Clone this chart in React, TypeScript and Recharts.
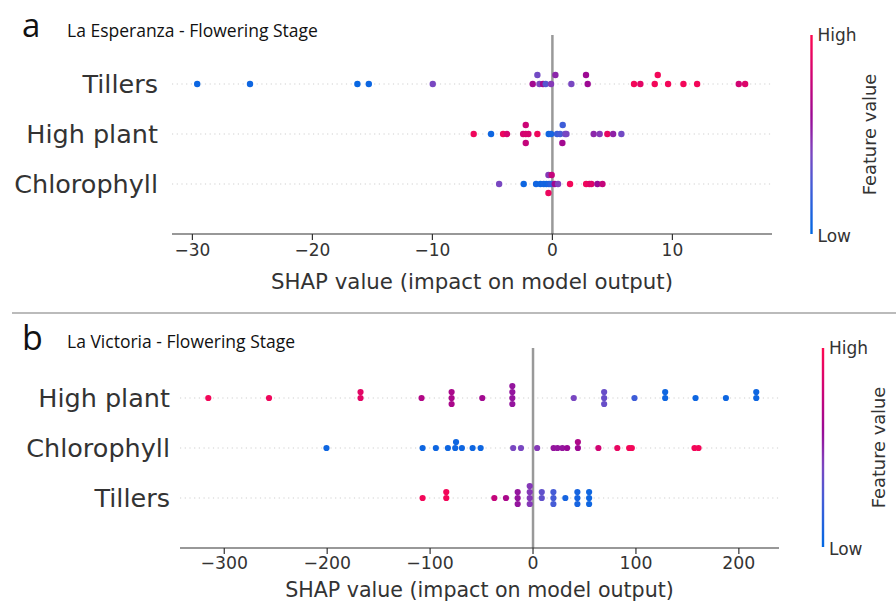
import React from 'react';
import { ScatterChart, Scatter, XAxis, YAxis, ReferenceLine } from 'recharts';

// ---------- Data: [SHAP value, stack lane, feature value 0..1] ----------
const esperanzaFeatures = ['Chlorophyll', 'High plant', 'Tillers'];
const esperanzaTicks = [-30, -20, -10, 0, 10];

const esperanzaTillers: number[][] = [
  [-29.6, 0, 0.04], [-25.2, 0, 0.05], [-16.25, 0, 0.03], [-15.3, 0, 0.04], [-9.97, 0, 0.4],
  [-1.64, 0, 0.62], [-1.25, 1, 0.38], [-1.08, 0, 0.42], [-0.78, 0, 0.62], [-0.56, 0, 0.3],
  [-0.11, 0, 0.45], [0.25, 1, 0.5], [1.58, 0, 0.4], [2.8, 1, 0.6], [2.94, 0, 0.6],
  [6.8, 0, 0.95], [7.33, 0, 0.88], [8.53, 0, 0.95], [8.78, 1, 0.95], [9.64, 0, 0.95],
  [10.92, 0, 0.95], [12.06, 0, 0.95], [15.53, 0, 0.8], [16.06, 0, 0.85],
];
const esperanzaHighPlant: number[][] = [
  [-6.56, 0, 0.93], [-5.11, 0, 0.05], [-4.11, 0, 0.92], [-3.78, 0, 0.82], [-2.44, 0, 0.8],
  [-2.22, 0, 0.82], [-2.0, 0, 0.82], [-2.22, 1, 0.78], [-2.22, -1, 0.75], [-1.25, 0, 0.93],
  [-0.31, 0, 0.05], [-0.11, 0, 0.08], [0.39, 0, 0.2], [0.64, 0, 0.25], [1.06, 0, 0.35],
  [1.17, 0, 0.4], [0.86, 1, 0.22], [0.83, -1, 0.62], [3.44, 0, 0.5], [3.94, 0, 0.45],
  [4.58, 0, 0.9], [5.06, 0, 0.52], [5.75, 0, 0.38],
];
const esperanzaChlorophyll: number[][] = [
  [-4.44, 0, 0.4], [-2.39, 0, 0.05], [-1.36, 0, 0.06], [-1.0, 0, 0.05], [-0.72, 0, 0.08],
  [-0.5, 0, 0.06], [-0.28, 0, 0.1], [-0.11, 0, 0.15], [0.19, 0, 0.6], [0.47, 0, 0.42],
  [-0.33, 1, 0.45], [-0.06, 1, 0.75], [-0.33, -1, 0.92], [1.47, 0, 0.95], [2.81, 0, 0.93],
  [3.08, 0, 0.9], [3.25, 0, 0.85], [3.75, 0, 0.58], [4.17, 0, 0.75],
];

const victoriaFeatures = ['Tillers', 'Chlorophyll', 'High plant'];
const victoriaTicks = [-300, -200, -100, 0, 100, 200];

const victoriaHighPlant: number[][] = [
  [-315.5, 0, 0.95], [-256.5, 0, 0.93], [-167.6, 1, 0.88], [-167.6, 0, 0.88], [-108.3, 0, 0.68],
  [-79.1, 1, 0.65], [-79.1, 0, 0.65], [-79.1, -1, 0.65], [-49.3, 0, 0.62], [-20.1, 2, 0.55],
  [-20.1, 1, 0.55], [-20.1, 0, 0.55], [-20.1, -1, 0.55], [39.6, 0, 0.4], [69.1, 1, 0.35],
  [69.1, 0, 0.35], [69.1, -1, 0.35], [98.6, 0, 0.22], [128.4, 1, 0.05], [128.4, 0, 0.05],
  [157.9, 0, 0.05], [187.4, 0, 0.05], [216.9, 1, 0.05], [216.9, 0, 0.05],
];
const victoriaChlorophyll: number[][] = [
  [-200.7, 0, 0.05], [-107.3, 0, 0.05], [-94.4, 0, 0.05], [-82.7, 0, 0.05], [-75.6, 0, 0.05],
  [-74.8, 1, 0.05], [-69.1, 0, 0.05], [-58.7, 0, 0.05], [-50.9, 0, 0.05], [-19.3, 0, 0.4],
  [-11.7, 0, 0.4], [4.0, 0, 0.45], [20, 0, 0.55], [23.8, 0, 0.55], [28.5, 0, 0.55],
  [33.1, 0, 0.58], [43.6, 0, 0.6], [43.6, 1, 0.66], [63.5, 0, 0.8], [81.9, 0, 0.9],
  [93.4, 0, 0.95], [96, 0, 0.95], [156.9, 0, 0.95], [160.8, 0, 0.95],
];
const victoriaTillers: number[][] = [
  [-107.3, 0, 0.95], [-84.3, 1, 0.95], [-84.3, 0, 0.95], [-37.6, 0, 0.75], [-26.3, 0, 0.65],
  [-14.9, 1, 0.55], [-14.9, 0, 0.55], [-14.9, -1, 0.55], [-3.2, 2, 0.45], [-3.2, 1, 0.45],
  [-3.2, 0, 0.45], [-3.2, -1, 0.45], [8.5, 1, 0.33], [8.5, 0, 0.33], [19.8, 1, 0.25],
  [19.8, 0, 0.25], [19.8, -1, 0.25], [31.4, 0, 0.08], [43.1, 1, 0.08], [43.1, 0, 0.08],
  [43.1, -1, 0.08], [54.5, 1, 0.05], [54.5, 0, 0.05], [54.5, -1, 0.05],
];

// ---------- colour map (SHAP red-blue) ----------
const cmapStops: [number, number[]][] = [
  [0.0, [0, 104, 228]],
  [0.25, [70, 92, 214]],
  [0.42, [128, 68, 190]],
  [0.58, [152, 10, 150]],
  [0.78, [204, 4, 118]],
  [1.0, [255, 8, 80]],
];
function cmap(v: number) {
  const t = Math.max(0, Math.min(1, v));
  for (let i = 0; i < cmapStops.length - 1; i++) {
    const [a, ca] = cmapStops[i];
    const [b, cb] = cmapStops[i + 1];
    if (t <= b) {
      const f = (t - a) / (b - a);
      const c = ca.map((x, k) => Math.round(x + (cb[k] - x) * f));
      return `rgb(${c[0]},${c[1]},${c[2]})`;
    }
  }
  return 'rgb(255,8,80)';
}

function build(rows: number[][][], laneUnit: number) {
  const out: { x: number; y: number; fv: number }[] = [];
  rows.forEach((pts, i) => {
    pts.forEach(([x, lane, fv]) => out.push({ x, y: i + 1 + lane * laneUnit, fv }));
  });
  return out;
}

const FONT = "'DejaVu Sans', sans-serif";
const TITLE_FONT = "'Open Sans', sans-serif";
const fmt = (v: number) => (v < 0 ? '\u2212' + Math.abs(v) : String(v));

type PanelProps = {
  data: { x: number; y: number; fv: number }[];
  names: string[];
  ticks: number[];
  xDomain: [number, number];
  yMax: number;
  width: number;
  height: number;
  yAxisWidth: number;
  yTickMargin: number;
  marginRight: number;
  marginTop: number;
  xAxisHeight: number;
  r: number;
  labelSize: number;
  tickSize: number;
  tickMargin: number;
  titleSize: number;
  titleOffset: number;
};

function Panel(p: PanelProps) {
  return (
    <ScatterChart
      width={p.width}
      height={p.height}
      margin={{ top: p.marginTop, right: p.marginRight, bottom: 0, left: 0 }}
    >
      <XAxis
        type="number"
        dataKey="x"
        domain={p.xDomain}
        allowDataOverflow
        ticks={p.ticks}
        tickFormatter={fmt}
        height={p.xAxisHeight}
        axisLine={{ stroke: '#333', strokeWidth: 1.2 }}
        tickLine={{ stroke: '#333', strokeWidth: 1.2 }}
        tickSize={6}
        tickMargin={p.tickMargin}
        tick={{ fill: '#333', fontSize: p.tickSize, fontFamily: FONT }}
        label={{
          value: 'SHAP value (impact on model output)',
          position: 'insideBottom',
          offset: p.titleOffset,
          style: { fill: '#333', fontSize: p.titleSize, fontFamily: FONT },
        }}
      />
      <YAxis
        type="number"
        dataKey="y"
        domain={[0, p.yMax]}
        allowDataOverflow
        ticks={[1, 2, 3]}
        tickFormatter={(v: number) => p.names[v - 1] ?? ''}
        width={p.yAxisWidth}
        axisLine={false}
        tickLine={false}
        tickSize={6}
        tickMargin={p.yTickMargin}
        tick={{ fill: '#333', fontSize: p.labelSize, fontFamily: FONT }}
      />
      {[1, 2, 3].map((row) => (
        <ReferenceLine
          key={row}
          y={row}
          stroke="#cfcfcf"
          strokeWidth={1.2}
          strokeDasharray="1.2 3.5"
        />
      ))}
      <ReferenceLine x={0} stroke="#999" strokeWidth={2.5} />
      <Scatter
        data={p.data}
        isAnimationActive={false}
        shape={(s: any) => <circle cx={s.cx} cy={s.cy} r={p.r} fill={cmap(s.payload.fv)} />}
      />
    </ScatterChart>
  );
}

function ColorBar({ x, y1, y2, id, labelX }: { x: number; y1: number; y2: number; id: string; labelX: number }) {
  const n = 20;
  return (
    <g>
      <defs>
        <linearGradient id={id} x1="0" y1="1" x2="0" y2="0">
          {Array.from({ length: n + 1 }, (_, i) => (
            <stop key={i} offset={i / n} stopColor={cmap(i / n)} />
          ))}
        </linearGradient>
      </defs>
      <rect x={x - 1.2} y={y1} width={2.4} height={y2 - y1} fill={`url(#${id})`} />
      <text x={x + 6} y={y1 + 6} fontSize={17} fill="#333" fontFamily={FONT}>High</text>
      <text x={x + 6} y={y2 + 8} fontSize={17} fill="#333" fontFamily={FONT}>Low</text>
      <text
        x={0}
        y={0}
        fontSize={17.8}
        fill="#333"
        fontFamily={FONT}
        textAnchor="middle"
        transform={`translate(${labelX},${(y1 + y2) / 2}) rotate(-90)`}
      >
        Feature value
      </text>
    </g>
  );
}

export default function App() {
  const topData = build([esperanzaChlorophyll, esperanzaHighPlant, esperanzaTillers], 0.18);
  const botData = build([victoriaTillers, victoriaChlorophyll, victoriaHighPlant], 0.12);
  return (
    <div style={{ position: 'absolute', left: 0, top: 0, width: 896, height: 604, background: '#fff', overflow: 'hidden' }}>
      <div style={{ position: 'absolute', left: 0, top: 0 }}>
        <Panel
          data={topData}
          names={esperanzaFeatures}
          ticks={esperanzaTicks}
          xDomain={[-31.7, 18.3]}
          yMax={3.98}
          width={896}
          height={300}
          yAxisWidth={172}
          yTickMargin={8}
          marginRight={124}
          marginTop={35}
          xAxisHeight={66}
          r={3.2}
          labelSize={25.5}
          tickSize={17}
          tickMargin={4}
          titleSize={21.3}
          titleOffset={11}
        />
      </div>
      <div style={{ position: 'absolute', left: 0, top: 312 }}>
        <Panel
          data={botData}
          names={victoriaFeatures}
          ticks={victoriaTicks}
          xDomain={[-343, 239]}
          yMax={4.0}
          width={896}
          height={292}
          yAxisWidth={180}
          yTickMargin={4}
          marginRight={117}
          marginTop={36}
          xAxisHeight={56}
          r={3.1}
          labelSize={25.5}
          tickSize={17.3}
          tickMargin={3}
          titleSize={20.6}
          titleOffset={7}
        />
      </div>
      <svg width={896} height={604} style={{ position: 'absolute', left: 0, top: 0, pointerEvents: 'none' }}>
        <text x={22} y={37} fontSize={33} fill="#111" fontFamily={TITLE_FONT}>a</text>
        <text x={67} y={37} fontSize={17.5} fill="#111" fontFamily={TITLE_FONT}>La Esperanza - Flowering Stage</text>
        <line x1={12} y1={313} x2={896} y2={313} stroke="#bbb" strokeWidth={2} />
        <text x={22} y={350} fontSize={34} fill="#111" fontFamily={TITLE_FONT}>b</text>
        <text x={67} y={348} fontSize={17.5} fill="#111" fontFamily={TITLE_FONT}>La Victoria - Flowering Stage</text>
        <ColorBar x={811.5} y1={35} y2={234} id="cb1" labelX={876} />
        <ColorBar x={823} y1={348} y2={547} id="cb2" labelX={885} />
      </svg>
    </div>
  );
}
